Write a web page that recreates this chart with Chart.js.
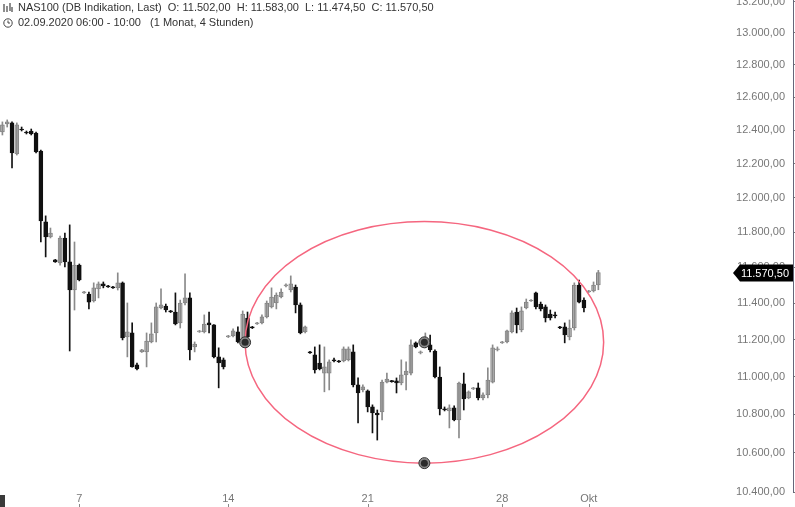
<!DOCTYPE html>
<html>
<head>
<meta charset="utf-8">
<script src="https://cdn.jsdelivr.net/npm/chart.js@4.4.1/dist/chart.umd.min.js"></script>
<style>
  html, body { margin: 0; padding: 0; background: #fff; }
  #wrap { position: relative; width: 795px; height: 507px; }
  .head { position: absolute; left: 3px; font: 11px "Liberation Sans", Arial, sans-serif; color: #333; white-space: pre; line-height: 13px; }
  .head svg { vertical-align: -2px; margin-right: 5px; }
  #corner { position: absolute; left: 0; top: 495px; width: 5px; height: 12px; background: #3a3a3a; }
</style>
</head>
<body>
<div id="wrap">
  <canvas id="chart"></canvas>
  <div class="head" id="line1" style="top:1px"></div>
  <div class="head" id="line2" style="top:16px"></div>
  <div id="corner"></div>
</div>
<script>
// 4h candles, NAS100 (DB Indikation), Sept 2020
const opens  = [12389,12438,12444,12257,12407,12389,12395,12383,12275,11859,11773,11642,11625,11767,11631,11473,11613,11457,11451,11412,
  11479,11507,11496,11490,11485,11513,11214,11236,11063,11133,11133,11187,11236,11373,11384,11357,11351,11291,11401,11429,
  11160,11242,11242,11291,11280,11106,11090,11214,11220,11242,11192,11318,11269,11285,11291,11324,11379,11401,11434,11496,
  11473,11490,11390,11242,11133,11117,11073,11019,11019,11090,11084,11084,11090,11133,10956,10929,10924,10839,10807,10813,
  10971,10977,10977,10966,11009,11019,11182,11128,11165,11171,11138,10998,10829,10818,10834,10771,10961,10887,10934,10940,
  10887,10903,10971,11144,11182,11187,11242,11351,11252,11373,11412,11457,11395,11379,11340,11335,11269,11269,11214,11263,
  11501,11417,11462,11468,11502];
const highs  = [12450,12462,12450,12444,12419,12395,12407,12389,12281,11894,11824,11645,11778,11795,11842,11744,11619,11465,11462,11513,
  11518,11518,11499,11493,11569,11518,11401,11291,11073,11147,11236,11291,11401,11479,11395,11360,11457,11417,11563,11457,
  11187,11250,11335,11351,11282,11155,11100,11223,11258,11269,11357,11351,11272,11294,11335,11412,11485,11457,11479,11507,
  11552,11501,11401,11274,11136,11160,11171,11160,11090,11100,11087,11160,11160,11171,10993,10956,10929,10850,10823,10982,
  11019,10980,10993,11090,11079,11198,11187,11138,11236,11225,11144,11052,10839,10850,10845,10971,11019,10924,10943,10966,
  10913,11047,11171,11160,11190,11252,11357,11373,11379,11423,11420,11462,11406,11390,11362,11351,11272,11291,11307,11513,
  11529,11429,11471,11518,11583];
const lows   = [12371,12419,12174,12251,12395,12377,12371,12263,11744,11659,11767,11628,11613,11602,11138,11362,11524,11454,11368,11406,
  11429,11485,11487,11482,11473,11198,11106,11050,11036,11130,11052,11182,11187,11368,11351,11348,11280,11263,11390,11090,
  11133,11239,11236,11236,11100,10940,11041,11211,11214,11182,11182,11209,11260,11282,11285,11318,11373,11368,11429,11490,
  11462,11346,11231,11236,11125,11019,11036,10919,10929,11079,11076,11079,11084,10945,10755,10919,10813,10703,10666,10771,
  10966,10970,10913,10956,10929,11009,11155,11122,11155,11133,10993,10797,10818,10729,10766,10677,10823,10882,10931,10876,
  10876,10887,10966,11138,11179,11182,11236,11236,11242,11368,11409,11368,11357,11296,11307,11318,11260,11182,11198,11252,
  11401,11351,11459,11462,11474.5];
const closes = [12432,12450,12263,12432,12401,12383,12377,12269,11865,11773,11795,11631,11767,11631,11473,11613,11529,11462,11406,11485,
  11507,11496,11490,11485,11513,11209,11242,11052,11041,11144,11192,11231,11379,11390,11362,11351,11285,11401,11429,11144,
  11176,11247,11285,11280,11106,11073,11052,11220,11247,11187,11340,11214,11263,11291,11324,11401,11434,11445,11462,11501,
  11507,11390,11236,11269,11128,11036,11041,11052,11079,11084,11079,11149,11149,10956,10913,10945,10839,10807,10797,10971,
  10987,10973,10966,11009,11030,11171,11160,11133,11192,11144,10998,10829,10823,10834,10771,10966,10882,10919,10940,10887,
  10903,10982,11155,11149,11187,11247,11346,11280,11357,11406,11417,11379,11368,11318,11318,11329,11263,11225,11263,11501,
  11406,11373,11468,11501,11570.5];

// x-axis day labels (category index -> text) and empty slots to the right
const dayLabels = { 16: '7', 47: '14', 76: '21', 104: '28', 122: 'Okt' };
const totalSlots = 165;
const priceTicks = [10400,10600,10800,11000,11200,11400,11600,11800,12000,12200,12400,12600,12800,13000,13200];

// ellipse drawing: centre, left edge and bottom edge in (index, price)
const ellipseCenter = [87.8, 11185];
const ellipseLeft = [50.5, 11185];
const ellipseBottom = [87.8, 10547];

const labels = Array.from({ length: totalSlots }, (_, i) => dayLabels[i] || '');

function fmt(v) {
    const parts = Number(v).toFixed(2).split('.');
    return parts[0].replace(/\B(?=(\d{3})+(?!\d))/g, '.') + ',' + parts[1];
}

const up = closes.map((c, i) => c >= opens[i]);
const bodyData = opens.map((o, i) => [o, closes[i]]);
const wickData = lows.map((l, i) => [l, highs[i]]);

// header
const last = opens.length - 1;
const candleIcon = '<svg width="10" height="10" viewBox="0 0 10 10"><path d="M1 1v8M4 3v6M7 0v8M9 4v5" stroke="#444" stroke-width="1.2"/></svg>';
const clockIcon = '<svg width="10" height="10" viewBox="0 0 10 10"><circle cx="5" cy="5" r="4.2" fill="none" stroke="#444"/><path d="M5 2.5V5h2" fill="none" stroke="#444"/></svg>';
document.getElementById('line1').innerHTML = candleIcon + 'NAS100 (DB Indikation, Last)  O: ' + fmt(opens[last]) +
    '  H: ' + fmt(highs[last]) + '  L: ' + fmt(lows[last]) + '  C: ' + fmt(closes[last]);
document.getElementById('line2').innerHTML = clockIcon + '02.09.2020 06:00 - 10:00   (1 Monat, 4 Stunden)';

const overlay = {
    id: 'overlay',
    afterDatasetsDraw(chart) {
        const { ctx, scales: { x, y } } = chart;
        const cx = x.getPixelForValue(ellipseCenter[0]);
        const cy = y.getPixelForValue(ellipseCenter[1]);
        const lx = x.getPixelForValue(ellipseLeft[0]);
        const by = y.getPixelForValue(ellipseBottom[1]);
        ctx.save();
        ctx.strokeStyle = '#f5667f';
        ctx.lineWidth = 1.5;
        ctx.beginPath();
        ctx.ellipse(cx, cy, cx - lx, by - cy, 0, 0, Math.PI * 2);
        ctx.stroke();
        [[lx, cy], [cx, cy], [cx, by]].forEach(([px, py]) => {
            ctx.beginPath();
            ctx.arc(px, py, 5.5, 0, Math.PI * 2);
            ctx.fillStyle = '#8a8a8a';
            ctx.fill();
            ctx.lineWidth = 1;
            ctx.strokeStyle = '#333';
            ctx.stroke();
            ctx.beginPath();
            ctx.arc(px, py, 3.5, 0, Math.PI * 2);
            ctx.fillStyle = '#2b2b2b';
            ctx.fill();
        });
        ctx.restore();
    },
    afterDraw(chart) {
        const { ctx, scales: { x, y } } = chart;
        ctx.save();
        // small tick marks under the day labels
        ctx.strokeStyle = '#888';
        ctx.lineWidth = 1;
        Object.keys(dayLabels).forEach(k => {
            const px = Math.round(x.getPixelForValue(Number(k))) + 0.5;
            ctx.beginPath();
            ctx.moveTo(px, 504);
            ctx.lineTo(px, 507);
            ctx.stroke();
        });
        // last price tag
        const py = Math.round(y.getPixelForValue(closes[last]));
        const right = 793, left = 740, h = 8.5;
        ctx.fillStyle = '#000';
        ctx.beginPath();
        ctx.moveTo(733, py);
        ctx.lineTo(left, py - h);
        ctx.lineTo(right, py - h);
        ctx.lineTo(right, py + h);
        ctx.lineTo(left, py + h);
        ctx.closePath();
        ctx.fill();
        ctx.fillStyle = '#fff';
        ctx.font = '11px "Liberation Sans", Arial, sans-serif';
        ctx.textAlign = 'right';
        ctx.textBaseline = 'middle';
        ctx.fillText(fmt(closes[last]), 789, py + 0.5);
        ctx.restore();
    }
};

new Chart(document.getElementById('chart'), {
    type: 'bar',
    data: {
        labels: labels,
        datasets: [
            {
                label: 'wick',
                data: wickData,
                grouped: false,
                barThickness: 1,
                backgroundColor: up.map(u => u ? '#8a8a8a' : '#111'),
                borderWidth: 0
            },
            {
                label: 'body',
                data: bodyData,
                grouped: false,
                barThickness: 4,
                backgroundColor: up.map(u => u ? '#c4c4c4' : '#111'),
                borderColor: up.map(u => u ? '#808080' : '#111'),
                borderWidth: 1,
                borderSkipped: false,
                minBarLength: 1
            }
        ]
    },
    options: {
        responsive: true,
        maintainAspectRatio: false,
        animation: false,
        layout: { padding: 0 },
        plugins: { legend: { display: false }, tooltip: { enabled: false } },
        scales: {
            x: {
                type: 'category',
                grid: { display: false, drawTicks: false, tickLength: 0 },
                border: { display: false },
                ticks: {
                    autoSkip: false,
                    maxRotation: 0,
                    padding: 0,
                    color: '#777',
                    font: { family: '"Liberation Sans", Arial, sans-serif', size: 11 }
                },
                afterFit(scale) {
                    scale.height = 15;
                    scale.paddingLeft = 0;
                    scale.paddingRight = 0;
                }
            },
            y: {
                type: 'logarithmic',
                position: 'right',
                min: 10400,
                max: 13210,
                grid: { drawOnChartArea: false, drawTicks: true, tickLength: 3, color: '#777' },
                border: { display: true, color: '#66667a', width: 1 },
                ticks: {
                    mirror: true,
                    padding: -8,
                    color: '#777',
                    font: { family: '"Liberation Sans", Arial, sans-serif', size: 11 },
                    callback: v => fmt(v)
                },
                afterBuildTicks(scale) {
                    scale.ticks = priceTicks.map(v => ({ value: v }));
                },
                afterFit(scale) {
                    scale.width = 2;
                    scale.paddingTop = 0;
                    scale.paddingBottom = 0;
                }
            }
        }
    },
    plugins: [overlay]
});
</script>
</body>
</html>
